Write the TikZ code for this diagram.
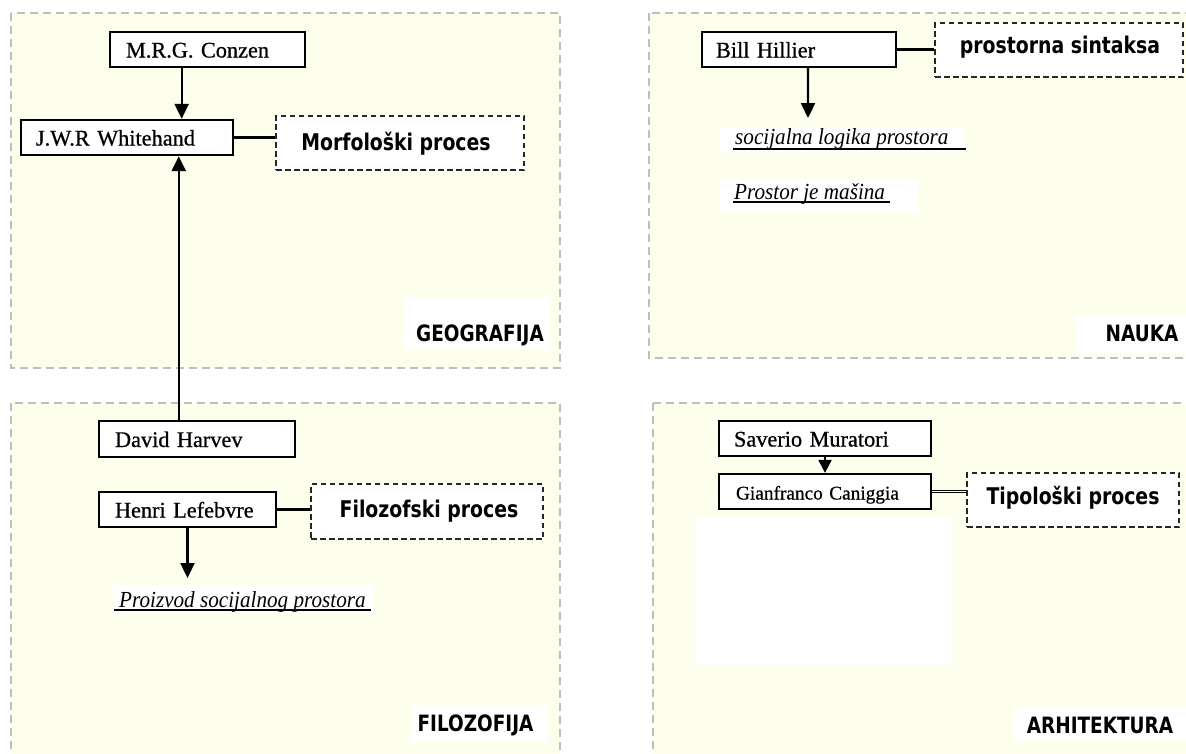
\documentclass[tikz,border=0pt]{standalone}
\usepackage{fontspec}
\setmainfont{Liberation Serif}
\newfontfamily\namefont{Liberation Serif}[FakeBold=0.7]
\newfontfamily\condserif{Liberation Serif}[FakeStretch=0.92]
\newfontfamily\lblfont{DejaVu Sans}[FakeStretch=0.82]
\usetikzlibrary{arrows.meta,calc}
\definecolor{panelfill}{RGB}{254,254,237}
\definecolor{panelline}{RGB}{190,190,190}
\begin{document}
\begin{tikzpicture}[x=1pt,y=-1pt,
  panel/.style={draw=panelline, fill=panelfill, line width=1.5pt, dash pattern=on 8pt off 5pt},
  namebox/.style={draw=black, fill=white, line width=2.3pt, align=left, inner ysep=0pt,
    text height=18pt, text depth=2pt, minimum height=35pt,
    font=\namefont\fontsize{22.3}{24}\selectfont},
  procbox/.style={draw=black!85, fill=white, line width=2.2pt, dash pattern=on 5.5pt off 3.5pt, inner sep=0pt},
  proctext/.style={font=\lblfont\bfseries\fontsize{23}{26}\selectfont, anchor=base, inner sep=0pt},
  areatext/.style={font=\lblfont\bfseries\fontsize{22.5}{26}\selectfont, anchor=base, inner sep=0pt},
  itext/.style={font=\condserif\itshape\fontsize{23}{26}\selectfont, anchor=base west, inner sep=0pt},
  uline/.style={draw=black, line width=1.6pt},
  arr/.style={draw=black, line width=2.3pt, -{Triangle[width=14pt,length=15pt]}},
  conn/.style={draw=black, line width=2.3pt}
]
\useasboundingbox (0,0) rectangle (1186,753);
\fill[white] (0,0) rectangle (1186,753);
\clip (0,0) rectangle (1186,753);

% panels
\path[panel] (11,13) rectangle (560,368);
\path[panel] (649,13) rectangle (1200,358);
\path[panel] (11,403) rectangle (560,770);
\path[panel] (653,403) rectangle (1200,770);

% white patches
\fill[white] (404,298) rectangle (549,350);
\fill[white] (1075,315) rectangle (1186,353);
\fill[white] (411,705) rectangle (547,742);
\fill[white] (1013,708) rectangle (1186,740);
\fill[white] (720,127) rectangle (964,152);
\fill[white] (720,180) rectangle (918,212);
\fill[white] (113,585) rectangle (373,613);
\fill[white] (695,517) rectangle (951,665);

% GEOGRAFIJA
\node[namebox, text width=163pt, inner xsep=16pt] (conz) at (207.5,49.5) {M.R.G. Conzen};
\node[namebox, text width=182pt, inner xsep=15pt] (white) at (127,137.5) {J.W.R Whitehand};
\node[procbox, minimum width=248pt, minimum height=54pt] (morf) at (400,143) {};
\node[proctext] (morft) at (396,150) {Morfološki proces};
\node[areatext] (geo) at (480,341) {GEOGRAFIJA};

% FILOZOFIJA
\node[namebox, text width=164pt, inner xsep=16pt, minimum height=36pt] (harv) at (197,439) {David Harvev};
\node[namebox, text width=145pt, inner xsep=16pt] (lef) at (187.5,509.5) {Henri Lefebvre};
\node[procbox, minimum width=232pt, minimum height=55pt] (filo) at (427,511.5) {};
\node[proctext] (filot) at (429,517) {Filozofski proces};
\node[itext] (proiz) at (119,607) {Proizvod socijalnog prostora};
\node[areatext] (filz) at (475.5,731) {FILOZOFIJA};
\coordinate (lefend) at (187.5,578);

% NAUKA
\node[namebox, text width=166pt, inner xsep=14pt] (bill) at (799,49.5) {Bill Hillier};
\node[procbox, minimum width=248pt, minimum height=54pt] (pros) at (1059,50) {};
\node[proctext] (prost) at (1060,53) {prostorna sintaksa};
\node[itext] (soc) at (735,144) {socijalna logika prostora};
\node[itext] (masina) at (734,199) {Prostor je mašina};
\node[areatext] (nauka) at (1142,341) {NAUKA};
\coordinate (billend) at (808,118);

% ARHITEKTURA
\node[namebox, text width=182pt, inner xsep=15pt] (sav) at (825,438.5) {Saverio Muratori};
\node[namebox, text width=178pt, inner xsep=17pt, font=\namefont\fontsize{19.3}{22}\selectfont] (gian) at (825,491.5) {Gianfranco Caniggia};
\node[procbox, minimum width=212pt, minimum height=54pt] (tipo) at (1073,500) {};
\node[proctext] (tipot) at (1073,504) {Tipološki proces};
\node[areatext] (arh) at (1100,733) {ARHITEKTURA};

% underlines
\draw[uline] (114,610) -- (371,610);
\draw[uline] (733,149) -- (966,149);
\draw[uline] (733,202) -- (890,202);

% connectors
\coordinate (c1) at ($(conz.south west)!0.369!(conz.south east)$);
\draw[arr] (c1) -- (c1 |- white.north);
\coordinate (h1) at ($(harv.north west)!0.408!(harv.north east)$);
\draw[arr] (h1) -- (h1 |- white.south);
\draw[conn] (white.east) -- (morf.west |- white.east);
\draw[conn] (lef.east) -- (filo.west |- lef.east);
\draw[arr] (lef.south) -- (lefend);
\draw[conn] (bill.east) -- (pros.west |- bill.east);
\coordinate (b1) at ($(bill.south west)!0.546!(bill.south east)$);
\draw[arr] (b1) -- (billend);
\draw[arr, -{Triangle[width=13pt,length=13pt]}] (sav.south) -- (gian.north);
\draw[draw=black, line width=1.1pt, double, double distance=1.4pt] (gian.east) -- (tipo.west |- gian.east);
\end{tikzpicture}
\end{document}
